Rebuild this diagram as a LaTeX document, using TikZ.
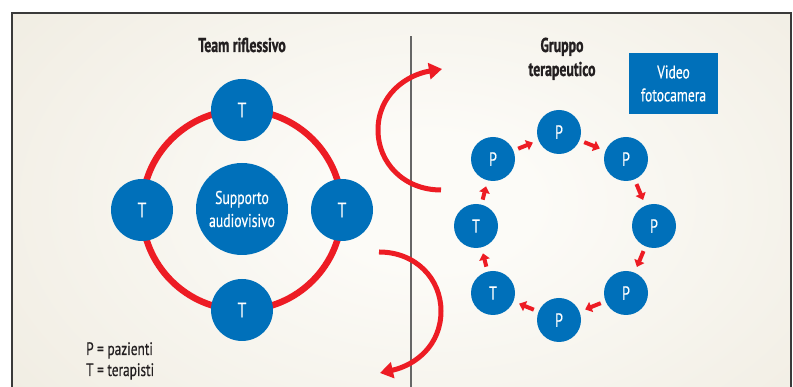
\documentclass[tikz,border=0pt]{standalone}
\usepackage{fontspec}
\setmainfont{PT Sans}[FakeStretch=0.74, FakeBold=0.4, BoldFeatures={FakeStretch=0.69, FakeBold=1}]
\usetikzlibrary{arrows.meta}
\definecolor{tblue}{HTML}{0070BA}
\definecolor{tred}{HTML}{ED1C24}
\definecolor{bgin}{HTML}{FCFBF7}
\definecolor{bgout}{HTML}{E2DBC9}
\definecolor{framec}{HTML}{3A3A3A}
\definecolor{divc}{HTML}{666666}
\definecolor{textc}{HTML}{231F20}
\pgfdeclareradialshading{bgshade}{\pgfpoint{0bp}{0bp}}{color(0bp)=(bgin); color(5bp)=(bgin); color(50bp)=(bgout); color(75bp)=(bgout)}
\tikzset{
  tnode/.style={circle, fill=tblue, minimum size=62, inner sep=0pt, text=white, font=\fontsize{21}{21}\selectfont},
  pnode/.style={circle, fill=tblue, minimum size=44, inner sep=0pt, text=white, font=\fontsize{19}{19}\selectfont},
  smallarr/.style={tred, line width=4pt, -{Triangle[length=6.5pt,width=10.5pt]}, shorten <=5pt, shorten >=6pt},
  bigarr/.style={tred, line width=5pt, -{Triangle[length=13pt,width=16pt]}},
  titletext/.style={font=\fontsize{20}{24}\selectfont\bfseries, text=textc, align=center, inner sep=0pt},
  legend/.style={font=\fontsize{18}{18}\selectfont, text=textc, inner sep=0pt, anchor=base west}
}
\begin{document}
\begin{tikzpicture}[x=1pt, y=1pt]
\useasboundingbox (0,0) rectangle (793,387);
\fill[white] (0,0) rectangle (793,387);
\begin{scope}
  \clip (12,0) rectangle (791,374);
  \fill[bgout] (12,0) rectangle (791,374);
  \shade[shading=bgshade] (430,185) ellipse [x radius=520, y radius=330];
\end{scope}
\draw[framec, line width=1.3pt] (12,0) -- (12,374) -- (791,374) -- (791,0);
\draw[divc, line width=1.2pt] (411,0) -- (411,351);

% titles
\node[titletext, anchor=base] (t1) at (242,335) {Team riflessivo};
\node[titletext, anchor=base] (t2) at (562,311) {Gruppo\\terapeutico};

% left ring
\coordinate (ringc) at (242,177);
\draw[tred, line width=6.5pt] (ringc) circle [radius=100];
\node[circle, fill=tblue, minimum size=92, inner sep=0pt, text=white, align=center,
      font=\fontsize{18.5}{23}\selectfont] (sup) at (242,178) {Supporto\\audiovisivo};
\node[tnode] (tt) at (242,277) {T};
\node[tnode] (tb) at (242,77) {T};
\node[tnode] (tl) at (142,177) {T};
\node[tnode] (tr) at (342,177) {T};

% legend
\node[legend] (l1) at (86,32) {P = pazienti};
\node[legend] (l2) at (86,11) {T = terapisti};

% big arrows
\coordinate (ua) at (441,197);
\coordinate (ub) at (442,318);
\draw[bigarr] (ua) .. controls (404,197) and (378,224) .. (378,257)
                   .. controls (378,292) and (406,312) .. (ub);
\coordinate (la) at (379,135);
\coordinate (lb) at (380,14);
\draw[bigarr] (la) .. controls (416,135) and (441,108) .. (441,76)
                   .. controls (441,42) and (416,22) .. (lb);

% video box
\node[rectangle, fill=tblue, minimum width=89, minimum height=61, inner sep=0pt, text=white,
      align=center, font=\fontsize{18.3}{23}\selectfont] (vid) at (673.5,303.5) {Video\\fotocamera};

% right group
\node[pnode] (p1) at (493,228) {P};
\node[pnode] (p2) at (559,255) {P};
\node[pnode] (p3) at (626,228) {P};
\node[pnode] (p4) at (654,161) {P};
\node[pnode] (p5) at (626,94) {P};
\node[pnode] (p6) at (559,67) {P};
\node[pnode] (q1) at (493,94) {T};
\node[pnode] (q2) at (476,161) {T};

\draw[smallarr] (p1) -- (p2);
\draw[smallarr] (p2) -- (p3);
\draw[smallarr] (p3) -- (p4);
\draw[smallarr] (p4) -- (p5);
\draw[smallarr] (p5) -- (p6);
\draw[smallarr] (p6) -- (q1);
\draw[smallarr] (q1) -- (q2);
\draw[smallarr] (q2) -- (p1);
\end{tikzpicture}
\end{document}
